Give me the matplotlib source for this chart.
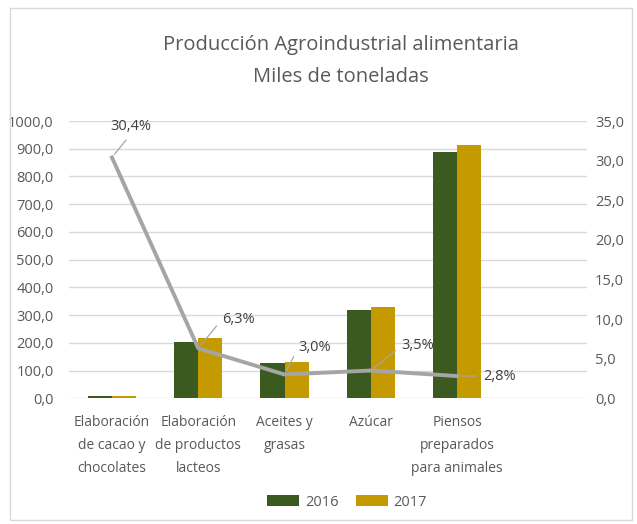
import matplotlib.pyplot as plt
from matplotlib.patches import Rectangle
from matplotlib.ticker import FuncFormatter

plt.rcParams['font.family'] = ['Open Sans', 'DejaVu Sans']

categories = ["Elaboración\nde cacao y\nchocolates",
              "Elaboración\nde productos\nlacteos",
              "Aceites y\ngrasas",
              "Azúcar",
              "Piensos\npreparados\npara animales"]
prod_2016 = [7, 203, 127, 320, 887]
prod_2017 = [8, 219, 131, 330, 913]
growth = [30.4, 6.3, 3.0, 3.5, 2.8]
growth_labels = ["30,4%", "6,3%", "3,0%", "3,5%", "2,8%"]
# where each data label sits, relative to its point (pixels), and where its leader attaches
label_offsets = [(19, 31), (40, 29), (30, 27), (47, 25), (42, 0)]
leader_rel = [(0.5, 0.0), (0.0, 0.5), (0.0, 0.5), (0.0, 0.5), (0.0, 0.5)]

green = "#3B5A1F"
gold = "#C59A00"
grey_txt = "#595959"

fig = plt.figure(figsize=(6.37, 5.24), dpi=100)
ax = fig.add_axes([0.108, 0.240, 0.813, 0.529])
ax2 = ax.twinx()

x = list(range(len(categories)))
w = 0.28
ax.bar([i - w / 2 for i in x], prod_2016, w, color=green, label="2016", zorder=3)
ax.bar([i + w / 2 for i in x], prod_2017, w, color=gold, label="2017", zorder=3)

ax.set_ylim(0, 1000)
ax.set_yticks(range(0, 1001, 100))
ax.set_xlim(-0.5, 5.5)
ax.set_xticks(x)
ax.set_xticklabels(categories, fontsize=10, color=grey_txt, linespacing=1.75)
ax.yaxis.set_major_formatter(FuncFormatter(lambda v, p: f"{v:.1f}".replace(".", ",")))
ax.grid(axis="y", color="#D9D9D9", linewidth=1, zorder=0)
ax.set_axisbelow(True)
for s in ax.spines.values():
    s.set_visible(False)
ax.tick_params(axis="both", length=0, labelsize=10.5, labelcolor=grey_txt)
ax.tick_params(axis="y", pad=11)
ax.tick_params(axis="x", pad=12, labelsize=10)

ax2.plot(x, growth, color="#A5A5A5", linewidth=2.8, zorder=4)
ax2.set_ylim(0, 35)
ax2.set_yticks(range(0, 36, 5))
ax2.yaxis.set_major_formatter(FuncFormatter(lambda v, p: f"{v:.1f}".replace(".", ",")))
for s in ax2.spines.values():
    s.set_visible(False)
ax2.tick_params(axis="y", length=0, labelsize=10.5, labelcolor=grey_txt, pad=6)

for i, (g, lab) in enumerate(zip(growth, growth_labels)):
    dx, dy = label_offsets[i]
    ax2.annotate(lab, (i, g), xytext=(dx, dy), textcoords="offset pixels",
                 ha="center", va="center", fontsize=10.5, color="#404040",
                 arrowprops=dict(arrowstyle="-", color="#A6A6A6", lw=0.9,
                                 shrinkA=3, shrinkB=3, relpos=leader_rel[i]))

fig.text(0.535, 1 - 45 / 524, "Producción Agroindustrial alimentaria",
         ha="center", va="center", fontsize=14.5, color=grey_txt)
fig.text(0.535, 1 - 77 / 524, "Miles de toneladas",
         ha="center", va="center", fontsize=14.5, color=grey_txt)

fig.legend(loc="center", bbox_to_anchor=(347 / 637, 1 - 502 / 524), ncol=2,
           frameon=False, fontsize=10.5, labelcolor=grey_txt,
           handlelength=2.2, handleheight=0.8, columnspacing=1.2, handletextpad=0.4)

fig.patches.append(Rectangle((10 / 637, 4 / 524), 622 / 637, 512 / 524,
                             transform=fig.transFigure, fill=False,
                             edgecolor="#D9D9D9", linewidth=1))

fig.savefig("out.png", dpi=100)
